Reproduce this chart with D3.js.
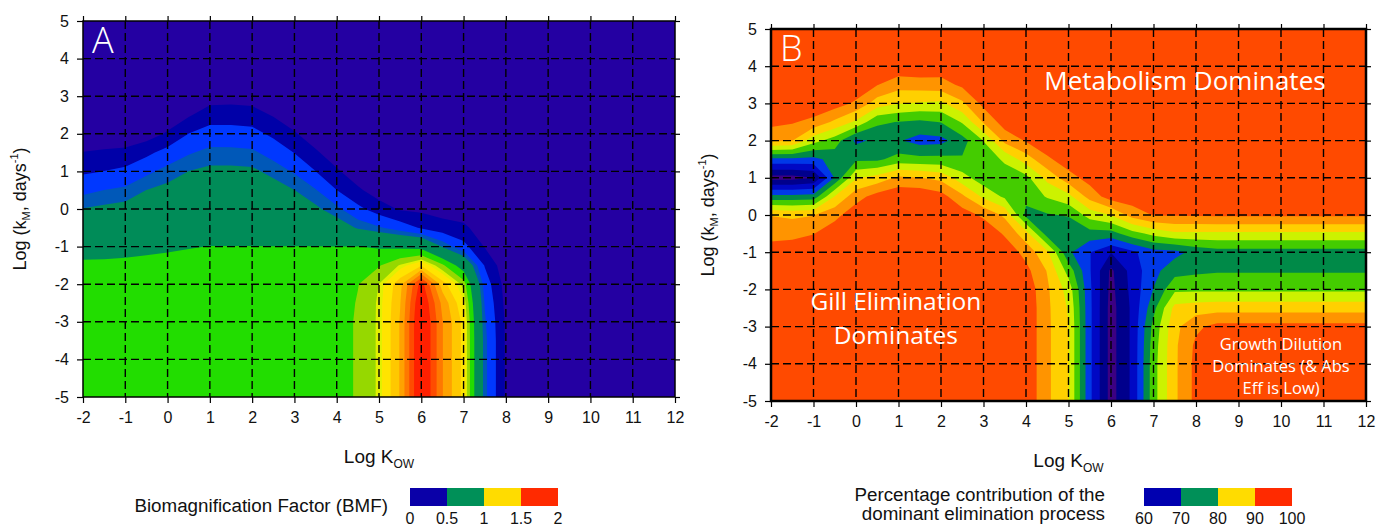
<!DOCTYPE html>
<html>
<head>
<meta charset="utf-8">
<script src="https://cdn.jsdelivr.net/npm/d3@7"></script>
<style>
  body { margin: 0; background: #fff; }
  text { font-family: Arial, "Liberation Sans", sans-serif; }
</style>
</head>
<body>
<svg id="chart" width="1376" height="527"></svg>
<script>
// grid positions of the model runs
const logKow = [-2,-1.5,-1,-0.5,0,0.5,1,1.5,2,2.5,3,3.5,4,4.5,5,5.5,6,6.5,7,7.5,8,8.5,9,9.5,10,10.5,11,11.5,12];
const logKm  = [5,4.5,4,3.5,3,2.5,2,1.5,1,0.5,0,-0.5,-1,-1.5,-2,-2.5,-3,-3.5,-4,-4.5,-5];

const xTicks = [-2,-1,0,1,2,3,4,5,6,7,8,9,10,11,12];
const yTicks = [-5,-4,-3,-2,-1,0,1,2,3,4,5];

// Panel A: BMF, one column per log Kow (top row = log kM 5)
const bmfByKow = [
  [0,0,0,0,0,0,0,0.105,0.227,0.365,0.505,0.62,0.73,0.83,0.86,0.86,0.86,0.86,0.86,0.86,0.86],
  [0,0,0,0,0,0,0,0.121,0.252,0.402,0.528,0.634,0.74,0.83,0.86,0.86,0.86,0.86,0.86,0.86,0.86],
  [0,0,0,0,0,0,0,0.137,0.287,0.428,0.548,0.648,0.748,0.835,0.86,0.86,0.86,0.86,0.86,0.86,0.86],
  [0,0,0,0,0,0,0.025,0.213,0.37,0.502,0.588,0.676,0.765,0.84,0.86,0.86,0.86,0.86,0.86,0.86,0.86],
  [0,0,0,0,0,0,0.119,0.305,0.445,0.537,0.618,0.698,0.779,0.845,0.86,0.86,0.86,0.86,0.86,0.86,0.86],
  [0,0,0,0,0,0.083,0.252,0.386,0.502,0.573,0.646,0.72,0.793,0.85,0.87,0.87,0.87,0.87,0.87,0.87,0.87],
  [0,0,0,0,0.028,0.178,0.315,0.436,0.53,0.597,0.665,0.732,0.802,0.86,0.87,0.87,0.87,0.87,0.87,0.87,0.87],
  [0,0,0,0,0.038,0.179,0.313,0.435,0.53,0.597,0.665,0.732,0.802,0.86,0.87,0.87,0.87,0.87,0.87,0.87,0.87],
  [0,0,0,0,0.028,0.167,0.3,0.423,0.524,0.593,0.662,0.731,0.802,0.86,0.87,0.87,0.87,0.87,0.87,0.87,0.87],
  [0,0,0,0,0,0.087,0.218,0.348,0.467,0.557,0.638,0.719,0.802,0.86,0.87,0.87,0.87,0.87,0.87,0.87,0.87],
  [0,0,0,0,0,0,0.118,0.245,0.386,0.502,0.6,0.7,0.802,0.86,0.87,0.87,0.87,0.87,0.87,0.87,0.87],
  [0,0,0,0,0,0,0,0.125,0.252,0.411,0.527,0.664,0.802,0.86,0.87,0.87,0.87,0.87,0.87,0.87,0.87],
  [0,0,0,0,0,0,0,0,0.125,0.252,0.433,0.586,0.802,0.86,0.88,0.88,0.88,0.88,0.88,0.88,0.88],
  [0,0,0,0,0,0,0,0,0,0.128,0.289,0.486,0.802,0.87,0.945,0.96,0.97,0.97,0.97,0.97,0.97],
  [0,0,0,0,0,0,0,0,0,0.02,0.175,0.417,0.782,0.941,1.052,1.065,1.065,1.065,1.065,1.065,1.065],
  [0,0,0,0,0,0,0,0,0,0,0.083,0.333,0.767,1.06,1.27,1.295,1.31,1.31,1.31,1.31,1.31],
  [0,0,0,0,0,0,0,0,0,0,0.067,0.233,0.745,1.19,1.65,1.72,1.75,1.75,1.75,1.75,1.75],
  [0,0,0,0,0,0,0,0,0,0,0.03,0.167,0.49,0.98,1.25,1.37,1.405,1.405,1.405,1.405,1.405],
  [0,0,0,0,0,0,0,0,0,0,0.02,0.13,0.3,0.7,1.02,1.12,1.17,1.17,1.17,1.17,1.17],
  [0,0,0,0,0,0,0,0,0,0,0,0.02,0.09,0.24,0.34,0.39,0.42,0.44,0.44,0.44,0.44],
  [0,0,0,0,0,0,0,0,0,0,0,0,0,0,0.04,0.06,0.08,0.08,0.08,0.08,0.08],
  [0,0,0,0,0,0,0,0,0,0,0,0,0,0,0,0,0,0,0,0,0],
  [0,0,0,0,0,0,0,0,0,0,0,0,0,0,0,0,0,0,0,0,0],
  [0,0,0,0,0,0,0,0,0,0,0,0,0,0,0,0,0,0,0,0,0],
  [0,0,0,0,0,0,0,0,0,0,0,0,0,0,0,0,0,0,0,0,0],
  [0,0,0,0,0,0,0,0,0,0,0,0,0,0,0,0,0,0,0,0,0],
  [0,0,0,0,0,0,0,0,0,0,0,0,0,0,0,0,0,0,0,0,0],
  [0,0,0,0,0,0,0,0,0,0,0,0,0,0,0,0,0,0,0,0,0],
  [0,0,0,0,0,0,0,0,0,0,0,0,0,0,0,0,0,0,0,0,0]
];

// Panel B: % contribution of the dominant elimination process
const pctByKow = [
  [99,99,99,99,99,96.5,91,69,53,71.5,89.8,93.5,97,99,99,99,99,99,99,99,99],
  [99,99,99,99,99,95.5,90.2,69,53,71.5,89,93.8,97.5,99,99,99,99,99,99,99,99],
  [99,99,99,99,99,93.5,82,68.5,55,72,89.8,94.8,98.5,99,99,99,99,99,99,99,99],
  [99,99,99,99,97.5,89,77.5,72,70.5,85.2,93.5,98,99,99,99,99,99,99,99,99,99],
  [99,99,99,99,94,84,69,74,84.5,93,98,99,99,99,99,99,99,99,99,99,99],
  [99,99,99,95.2,87.5,76,71,74,87,97,99,99,99,99,99,99,99,99,99,99,99],
  [99,99,98.5,92,85.2,74.8,70.5,77,91,99,99,99,99,99,99,99,99,99,99,99,99],
  [99,99,98.8,92.5,84.5,74,68,76.5,90.2,99,99,99,99,99,99,99,99,99,99,99,99],
  [99,99,98,93,84,75.2,68.5,76.5,88.5,97,99,99,99,99,99,99,99,99,99,99,99],
  [99,99,99,96,89,80.5,73,75.5,82,91,97.5,99,99,99,99,99,99,99,99,99,99],
  [99,99,99,99,96.5,90.5,80.2,76.5,77,84,94,99,99,99,99,99,99,99,99,99,99],
  [99,99,99,99,99,97.5,91.5,81,77,79,89,94.3,98.5,99,99,99,99,99,99,99,99],
  [99,99,99,99,99,99,95.5,87.5,78.5,76.5,73.5,87,93.2,96.5,98.5,99,99,99,99,99,99],
  [99,99,99,99,99,99,99,94,86.5,80.5,74.5,72.5,86,89.7,90.8,91,91,91,91,91,91],
  [99,99,99,99,99,99,99,98,93,83.5,75.5,70.5,71,78,83,84.5,85.2,85.2,85.2,85.2,85.2],
  [99,99,99,99,99,99,99,99,97,92,82,73,65.2,65.5,66,66.2,66.2,66.2,66.2,66.2,66.2],
  [99,99,99,99,99,99,99,99,99,97.5,85.2,73,60.2,54,53.5,53,53,53,53,53,53],
  [99,99,99,99,99,99,99,99,99,98,92,78,64,62,61.5,61,61,61,61,61,61],
  [99,99,99,99,99,99,99,99,99,99,95.3,81.5,68,68.5,70.2,73.5,76.5,77.5,78,78,78],
  [99,99,99,99,99,99,99,99,99,99,95.5,84,68.5,73,79,86.5,88.5,89,89,89,89],
  [99,99,99,99,99,99,99,99,99,99,95.7,84,71.5,74,79,87.5,94,96,96.5,96.5,96.5],
  [99,99,99,99,99,99,99,99,99,99,95.8,84,73,74.5,79,88,96.5,99,99,99,99],
  [99,99,99,99,99,99,99,99,99,99,95.8,84,73,74.5,79,88,96.5,99,99,99,99],
  [99,99,99,99,99,99,99,99,99,99,95.8,84,73,74.5,79,88,96.5,99,99,99,99],
  [99,99,99,99,99,99,99,99,99,99,95.8,84,73,74.5,79,88,96.5,99,99,99,99],
  [99,99,99,99,99,99,99,99,99,99,95.8,84,73,74.5,79,88,96.5,99,99,99,99],
  [99,99,99,99,99,99,99,99,99,99,95.8,84,73,74.5,79,88,96.5,99,99,99,99],
  [99,99,99,99,99,99,99,99,99,99,95.8,84,73,74.5,79,88,96.5,99,99,99,99],
  [99,99,99,99,99,99,99,99,99,99,95.8,84,73,74.5,79,88,96.5,99,99,99,99]
];

const bmfLevels = [-1, 0.1, 0.25, 0.4, 0.5, 0.8, 0.95, 1.05, 1.1, 1.2, 1.3, 1.4, 1.5, 1.6];
const bmfColors = ["#2400a2","#0000a8","#0038ff","#0058b8","#008c58","#22dd00","#96d800",
                   "#e2f000","#ffe400","#ffc800","#ffa200","#ff7800","#ff4c00","#ff2000"];
const pctLevels = [0, 55, 60, 65, 70, 75, 80, 85, 90, 95];
const pctColors = ["#3c0082","#00008c","#0008c4","#0038e8","#008a48","#44cc00","#ccf200",
                   "#ffd000","#ff9400","#ff4a00"];

const bmfLegendTicks = [0, 0.5, 1, 1.5, 2];
const bmfLegendColors = ["#0a00a8","#009058","#ffdc00","#ff2a00"];
const pctLegendTicks = [60, 70, 80, 90, 100];
const pctLegendColors = ["#0000b0","#009058","#ffdc00","#ff2a00"];

const svg = d3.select("#chart");

function drawPanel(o) {
  const x = d3.scaleLinear().domain([-2, 12]).range([o.left, o.right]);
  const y = d3.scaleLinear().domain([-5, 5]).range([o.bottom, o.top]);
  const g = svg.append("g");

  g.append("clipPath").attr("id", o.id)
    .append("rect")
    .attr("x", o.left).attr("y", o.top)
    .attr("width", o.right - o.left).attr("height", o.bottom - o.top);

  // filled contours
  const nx = logKow.length, ny = logKm.length;
  const values = new Array(nx * ny);
  o.columns.forEach((col, i) => col.forEach((v, j) => { values[j * nx + i] = v; }));
  const contours = d3.contours().size([nx, ny]).thresholds(o.levels)(values);
  const gx = d3.scaleLinear().domain([0.5, nx - 0.5]).range([x(logKow[0]), x(logKow[nx - 1])]);
  const gy = d3.scaleLinear().domain([0.5, ny - 0.5]).range([y(logKm[0]), y(logKm[ny - 1])]);
  const path = d3.geoPath(d3.geoTransform({
    point(px, py) { this.stream.point(gx(px), gy(py)); }
  }));
  const color = d3.scaleOrdinal().domain(o.levels).range(o.colors);

  g.append("g").attr("clip-path", `url(#${o.id})`)
    .selectAll("path")
    .data(contours)
    .join("path")
    .attr("d", path)
    .attr("fill", d => color(d.value));

  // dashed grid
  const grid = g.append("g").attr("stroke", "#000").attr("stroke-width", 1.4)
    .attr("stroke-dasharray", "8,4");
  grid.selectAll("line.v").data(xTicks.slice(1, -1)).join("line")
    .attr("x1", d => x(d)).attr("x2", d => x(d))
    .attr("y1", o.top).attr("y2", o.bottom);
  grid.selectAll("line.h").data(yTicks.slice(1, -1)).join("line")
    .attr("y1", d => y(d)).attr("y2", d => y(d))
    .attr("x1", o.left).attr("x2", o.right);

  // axes with outward ticks on all four sides
  const fmt = d => String(d);
  const styleAxis = a => {
    a.select(".domain").remove();
    a.selectAll("line").attr("stroke", "#000").attr("stroke-width", 1.2);
    a.selectAll("text").attr("font-size", 16).attr("fill", "#111");
  };
  g.append("g").attr("transform", `translate(0,${o.bottom})`)
    .call(d3.axisBottom(x).tickValues(xTicks).tickFormat(fmt).tickSize(6).tickPadding(9).tickSizeOuter(0))
    .call(styleAxis);
  g.append("g").attr("transform", `translate(${o.left},0)`)
    .call(d3.axisLeft(y).tickValues(yTicks).tickFormat(fmt).tickSize(6).tickPadding(8).tickSizeOuter(0))
    .call(styleAxis);
  g.append("g").attr("transform", `translate(0,${o.top})`)
    .call(d3.axisTop(x).tickValues(xTicks).tickFormat("").tickSize(5).tickSizeOuter(0))
    .call(styleAxis);
  g.append("g").attr("transform", `translate(${o.right},0)`)
    .call(d3.axisRight(y).tickValues(yTicks).tickFormat("").tickSize(5).tickSizeOuter(0))
    .call(styleAxis);

  g.append("rect")
    .attr("x", o.left).attr("y", o.top)
    .attr("width", o.right - o.left).attr("height", o.bottom - o.top)
    .attr("fill", "none").attr("stroke", "#000").attr("stroke-width", o.frame);

  // panel letter
  g.append("text")
    .attr("x", o.left + 9).attr("y", o.top + 32)
    .attr("fill", "#fff").attr("font-size", 36)
    .style("font-family", "'Open Sans', sans-serif").attr("font-weight", 300)
    .text(o.letter);

  // x title
  const xt = g.append("text")
    .attr("x", (o.left + o.right) / 2).attr("y", o.bottom + 66)
    .attr("text-anchor", "middle").attr("font-size", 19).attr("fill", "#111");
  xt.append("tspan").text("Log K");
  xt.append("tspan").attr("font-size", 12).attr("dy", 5).text("OW");

  // y title
  const yt = g.append("text")
    .attr("transform", `translate(${o.left - 57},${(o.top + o.bottom) / 2}) rotate(-90)`)
    .attr("text-anchor", "middle").attr("font-size", 18).attr("fill", "#111");
  yt.append("tspan").text("Log (k");
  yt.append("tspan").attr("font-size", 11).attr("dy", 4).text("M");
  yt.append("tspan").attr("dy", -4).text(", days");
  yt.append("tspan").attr("font-size", 11).attr("dy", -8).text("-1");
  yt.append("tspan").attr("dy", 8).text(")");

  return { x, y, g };
}

function drawLegend(o) {
  const lx = d3.scaleLinear().domain([o.ticks[0], o.ticks[o.ticks.length - 1]]).range([o.x0, o.x1]);
  const g = svg.append("g");
  g.selectAll("rect").data(o.colors).join("rect")
    .attr("x", (d, i) => lx(o.ticks[i])).attr("y", 488)
    .attr("width", (d, i) => lx(o.ticks[i + 1]) - lx(o.ticks[i]))
    .attr("height", 18).attr("fill", d => d);
  g.selectAll("text.tick").data(o.ticks).join("text")
    .attr("class", "tick")
    .attr("x", d => lx(d)).attr("y", 524)
    .attr("text-anchor", "middle").attr("font-size", 16).attr("fill", "#111")
    .text(d => String(d));
  o.title.forEach((t, i) => {
    g.append("text")
      .attr("x", o.titleX).attr("y", o.titleY + i * 19)
      .attr("text-anchor", "end").attr("font-size", 18.8).attr("fill", "#111")
      .text(t);
  });
}

drawPanel({
  id: "clipA", left: 83, right: 675, top: 21, bottom: 397,
  columns: bmfByKow, levels: bmfLevels, colors: bmfColors,
  frame: 1.5, letter: "A"
});

const b = drawPanel({
  id: "clipB", left: 771, right: 1366, top: 29, bottom: 401,
  columns: pctByKow, levels: pctLevels, colors: pctColors,
  frame: 2.5, letter: "B"
});

// annotations in panel B
const note = (txt, kx, ky, size) => b.g.append("text")
  .attr("x", b.x(kx)).attr("y", b.y(ky))
  .attr("text-anchor", "middle").attr("fill", "#fff").attr("font-size", size)
  .style("font-family", "'Open Sans', sans-serif")
  .text(txt);
note("Metabolism Dominates", 7.74, 3.37, 26);
note("Gill Elimination", 0.94, -2.56, 24.5);
note("Dominates", 0.94, -3.48, 24.5);
note("Growth Dilution", 10.0, -3.64, 16.5);
note("Dominates (& Abs", 10.0, -4.22, 16.5);
note("Eff is Low)", 10.0, -4.80, 16.5);

drawLegend({ ticks: bmfLegendTicks, colors: bmfLegendColors, x0: 410, x1: 558,
  title: ["Biomagnification Factor (BMF)"], titleX: 388, titleY: 512 });
drawLegend({ ticks: pctLegendTicks, colors: pctLegendColors, x0: 1144, x1: 1292,
  title: ["Percentage contribution of the", "dominant elimination process"], titleX: 1105, titleY: 501 });
</script>
</body>
</html>
